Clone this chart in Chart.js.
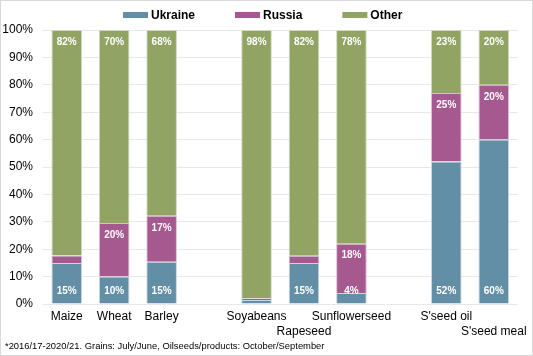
<!DOCTYPE html>
<html><head><meta charset="utf-8">
<script src="https://cdn.jsdelivr.net/npm/chart.js@4/dist/chart.umd.min.js"></script>
<style>
html,body{margin:0;padding:0;background:#fff;}
#wrap{position:absolute;left:0;top:0;width:531px;height:354px;border:1px solid #d9d9d9;}
</style></head>
<body><div id="wrap"><canvas id="c" width="531" height="354"></canvas></div>
<script>
const categories = ['Maize','Wheat','Barley','','Soyabeans','Rapeseed','Sunflowerseed','',"S'seed oil","S'seed meal"];
const secondRow = ['Rapeseed',"S'seed meal"];
const ukraine = [15, 10, 15.4, null, 1.5, 15, 4, null, 52, 60];
const russia  = [2.7, 19.6, 16.8, null, 0.6, 2.6, 18, null, 25, 20];
const other   = [82.3, 70.4, 67.8, null, 97.9, 82.4, 78, null, 23, 20];
const yTicks = [0,10,20,30,40,50,60,70,80,90,100];
const footnote = '*2016/17-2020/21. Grains: July/June, Oilseeds/products: October/September';

const FONT = 'Liberation Sans, Arial, sans-serif';

const labelPlugin = {
  id: 'segLabels',
  afterDatasetsDraw(chart) {
    const ctx = chart.ctx;
    ctx.save();
    ctx.font = 'bold 10px ' + FONT;
    ctx.fillStyle = '#fff';
    ctx.textAlign = 'center';
    ctx.textBaseline = 'middle';
    chart.data.datasets.forEach((ds, di) => {
      const meta = chart.getDatasetMeta(di);
      meta.data.forEach((el, i) => {
        const v = ds.data[i];
        if (v == null || v < 3.5) return;
        const txt = Math.round(v) + '%';
        const y = di === 0 ? el.base - 12 : el.y + 12;
        ctx.fillText(txt, el.x, y);
      });
    });
    ctx.restore();
  }
};

const legendPlugin = {
  id: 'customLegend',
  afterDraw(chart) {
    const ctx = chart.ctx;
    ctx.save();
    ctx.font = 'bold 12px ' + FONT;
    const boxW = 25, boxH = 6, gapText = 3, gapItem = 40, cy = 14;
    const items = chart.data.datasets.map(ds => ({label: ds.label, color: ds.backgroundColor, w: boxW + gapText + ctx.measureText(ds.label).width}));
    const total = items.reduce((a, it) => a + it.w, 0) + gapItem * (items.length - 1);
    let x = Math.round(chart.width / 2 - total / 2) - 4;
    ctx.textBaseline = 'middle';
    ctx.textAlign = 'left';
    items.forEach(it => {
      ctx.fillStyle = it.color;
      ctx.fillRect(x, cy - boxH / 2, boxW, boxH);
      ctx.fillStyle = '#000';
      ctx.fillText(it.label, x + boxW + gapText, cy + 1);
      x += it.w + gapItem;
    });
    // footnote
    ctx.font = '9.4px ' + FONT;
    ctx.fillText(footnote, 4, 345);
    ctx.restore();
  }
};

new Chart(document.getElementById('c'), {
  type: 'bar',
  data: {
    labels: categories,
    datasets: [
      {label:'Ukraine', data: ukraine, backgroundColor:'#628FA5', borderColor:'#c9d6dc', borderWidth:1},
      {label:'Russia', data: russia, backgroundColor:'#A5598F', borderColor:'#d9bfd1', borderWidth:1},
      {label:'Other', data: other, backgroundColor:'#91A463', borderColor:'#cfd8bd', borderWidth:1}
    ]
  },
  options: {
    responsive:false,
    animation:false,
    layout:{padding:{left:0,right:8,top:29,bottom:15}},
    datasets:{bar:{categoryPercentage:1, barPercentage:0.645}},
    plugins:{
      legend:{display:false},
      title:{display:false},
      tooltip:{enabled:false}
    },
    scales:{
      x:{
        stacked:true,
        grid:{display:false, drawTicks:false},
        border:{display:false},
        afterFit(s){ s.height = 36; },
        ticks:{
          color:'#000', font:{family:FONT, size:12, lineHeight:1.25}, maxRotation:0, autoSkip:false, padding:5,
          callback:function(v,i){ const l = categories[i]; return secondRow.includes(l) ? ['', l] : l; }
        }
      },
      y:{
        stacked:true, min:0, max:100,
        afterBuildTicks(s){ s.ticks = yTicks.map(v=>({value:v})); },
        afterFit(s){ s.width = 42; },
        grid:{color:'#e8e8e8', drawTicks:false},
        border:{display:false},
        ticks:{color:'#000', font:{family:FONT, size:12}, padding:10, callback:v=>v+'%'}
      }
    }
  },
  plugins:[labelPlugin, legendPlugin]
});
</script>
</body></html>
